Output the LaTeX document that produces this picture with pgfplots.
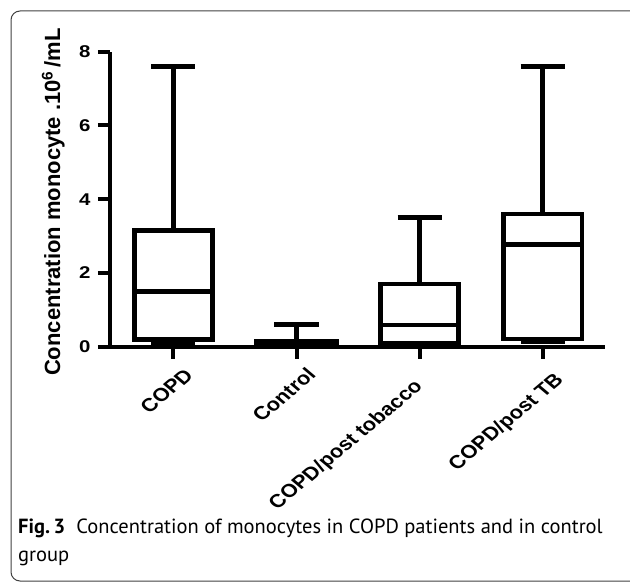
\documentclass[border=0pt]{standalone}
\usepackage{fontspec}
\setmainfont{Liberation Sans}
\newfontfamily\capfont{PT Sans}
\usepackage{pgfplots}
\pgfplotsset{compat=1.18}
\usepgfplotslibrary{statistics}
\begin{document}
\begin{tikzpicture}
\useasboundingbox (0,0) rectangle (630pt,582pt);
\begin{scope}
\clip (0,0) rectangle (630pt,582pt);
\draw[black!75, line width=1pt, rounded corners=9pt] (11pt,1pt) rectangle (640pt,571pt);
\end{scope}
\node[anchor=base west, inner sep=0pt] at (18pt,49pt) {\capfont\fontsize{20.5}{20.5}\selectfont\bfseries Fig.\,3\hspace{0.55em}\mdseries Concentration of monocytes in COPD patients and in control};
\node[anchor=base west, inner sep=0pt] at (18pt,21pt) {\capfont\fontsize{20.5}{20.5}\selectfont group};
\begin{axis}[
  at={(110pt,235.3pt)}, anchor=south west,
  width=495pt, height=295pt, scale only axis,
  xmin=-0.514, xmax=3.504, ymin=0, ymax=8,
  axis lines=left,
  axis line style={-, line width=4.2pt, black},
  clip=false,
  boxplot/draw direction=y,
  boxplot/every box/.style={draw=black, line width=4.8pt},
  boxplot/every whisker/.style={draw=black, line width=5pt},
  boxplot/every median/.style={draw=black, line width=4.8pt},
  xtick={0,1,2,3},
  xticklabels={COPD,Control,COPD/post tobacco,COPD/post TB},
  ytick={0,2,4,6,8},
  tick align=outside,
  major tick length=12pt,
  tick style={line width=4pt, black},
  /pgf/number format/assume math mode=true,
  yticklabel style={font=\fontsize{17}{17}\selectfont\bfseries, inner sep=0pt, xscale=1.2, xshift=-6pt},
  xticklabel style={font=\fontsize{18.5}{18.5}\selectfont\bfseries, cm={0.841,0.707,-0.841,0.707,(0,0)}, anchor=north east, inner sep=0pt, xshift={{0,0,-18,-3}[\ticknum]*1pt}, yshift={{-12,-11,-9,-15}[\ticknum]*1pt}},
  ylabel={Concentration monocyte .10\textsuperscript{6}\,/mL},
  ylabel style={font=\fontsize{22}{22}\selectfont\bfseries, at={(axis description cs:-0.1008,0.49)}, anchor=base, inner sep=0pt},
]
\addplot[black, boxplot prepared={draw position=0, median=1.5, upper quartile=3.15, lower quartile=0.2, upper whisker=7.6, lower whisker=0.05, box extend=0.635, whisker extend=0.36}] coordinates {};
\addplot[black, boxplot prepared={draw position=1, median=0.09, upper quartile=0.15, lower quartile=0.04, upper whisker=0.6, lower whisker=0.02, box extend=0.65, whisker extend=0.36}] coordinates {};
\addplot[black, boxplot prepared={draw position=2, median=0.59, upper quartile=1.7, lower quartile=0.1, upper whisker=3.5, lower whisker=0.05, box extend=0.635, whisker extend=0.36}] coordinates {};
\addplot[black, boxplot prepared={draw position=3, median=2.78, upper quartile=3.6, lower quartile=0.21, upper whisker=7.6, lower whisker=0.14, box extend=0.635, whisker extend=0.36}] coordinates {};
\end{axis}
\end{tikzpicture}
\end{document}
